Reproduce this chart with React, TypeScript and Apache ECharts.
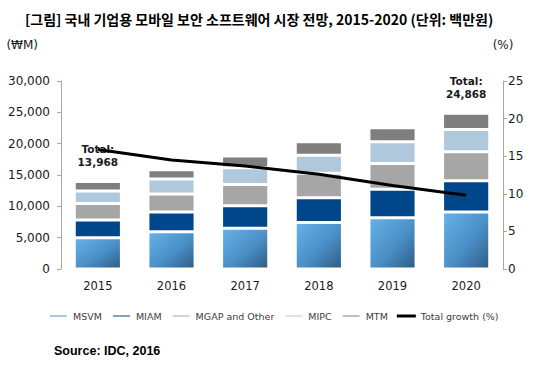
import React, { useEffect, useRef } from "react";
import * as echarts from "echarts";

const years = ["2015", "2016", "2017", "2018", "2019", "2020"];
const msvm = [5000, 5940, 6490, 7420, 8190, 9100];
const miam = [2800, 3160, 3590, 3960, 4550, 5000];
const mgap = [2650, 2870, 3400, 3890, 4100, 4600];
const mipc = [2000, 2390, 2660, 2890, 3460, 3550];
const mtm = [1518, 1480, 1890, 2150, 2250, 2618];
const growth = [15.9, 14.5, 13.7, 12.6, 11.1, 9.8];
const totalLabelIdx = [0, 5];

const seriesNames = ["MSVM", "MIAM", "MGAP and Other", "MIPC", "MTM", "Total growth (%)"];

export default function App() {
  const ref = useRef<HTMLDivElement>(null);
  useEffect(() => {
    if (!ref.current) return;
    const chart = echarts.init(ref.current, undefined, { renderer: "svg" });
    const totals = years.map((_, i) => msvm[i] + miam[i] + mgap[i] + mipc[i] + mtm[i]);
    const fmt = (v: number) => v.toLocaleString("en-US");
    const font = "DejaVu Sans";
    const barBase = {
      type: "bar",
      stack: "total",
      barCategoryGap: "36%",
      yAxisIndex: 0,
    };
    const border = { borderColor: "#ffffff", borderWidth: 1.5 };
    chart.setOption({
      animation: false,
      backgroundColor: "#ffffff",
      title: {
        text: "[그림] 국내 기업용 모바일 보안 소프트웨어 시장 전망, 2015-2020 (단위: 백만원)",
        left: 20,
        top: 7,
        textStyle: {
          fontFamily: "Noto Sans CJK KR",
          fontWeight: "bold",
          fontSize: 14,
          color: "#000000",
        },
      },
      graphic: [
        {
          type: "text",
          left: 54,
          top: 344,
          style: {
            text: "Source: IDC, 2016",
            font: "bold 12.5px 'Liberation Sans'",
            fill: "#000000",
          },
        },
      ],
      legend: {
        left: 43,
        top: 306,
        itemWidth: 19,
        itemHeight: 3,
        itemGap: 9,
        icon: "rect",
        textStyle: { fontFamily: font, fontSize: 9.5, color: "#404040" },
        data: [
          { name: seriesNames[0], itemStyle: { color: "#4f8fc5" } },
          { name: seriesNames[1], itemStyle: { color: "#00468a" } },
          { name: seriesNames[2], itemStyle: { color: "#a6a6a6" } },
          { name: seriesNames[3], itemStyle: { color: "#b0c8db" } },
          { name: seriesNames[4], itemStyle: { color: "#7f7f7f" } },
          { name: seriesNames[5], itemStyle: { color: "#000000" } },
        ],
      },
      grid: { left: 61, right: 41, top: 81, bottom: 96 },
      xAxis: {
        type: "category",
        data: years,
        axisLine: { show: false },
        axisTick: { show: false },
        axisLabel: { fontFamily: font, fontSize: 11.5, color: "#1a1a1a", margin: 11 },
      },
      yAxis: [
        {
          type: "value",
          min: 0,
          max: 30000,
          interval: 5000,
          name: "(₩M)",
          nameLocation: "end",
          nameGap: 30,
          nameTextStyle: {
            fontFamily: font,
            fontSize: 12,
            color: "#1a1a1a",
            align: "right",
            padding: [0, 23, 0, 0],
          },
          splitLine: { show: false },
          axisLine: { show: true, lineStyle: { color: "#a6a6a6", width: 1 } },
          axisTick: { show: true, length: 4, lineStyle: { color: "#a6a6a6" } },
          axisLabel: {
            fontFamily: font,
            fontSize: 12,
            color: "#1a1a1a",
            margin: 11,
            formatter: (v: number) => fmt(v),
          },
        },
        {
          type: "value",
          min: 0,
          max: 25,
          interval: 5,
          name: "(%)",
          nameLocation: "end",
          nameGap: 30,
          nameTextStyle: { fontFamily: font, fontSize: 12, color: "#1a1a1a" },
          splitLine: { show: false },
          axisLine: { show: true, lineStyle: { color: "#a6a6a6", width: 1 } },
          axisTick: { show: true, length: 4, lineStyle: { color: "#a6a6a6" } },
          axisLabel: { fontFamily: font, fontSize: 12, color: "#1a1a1a", margin: 5 },
        },
      ],
      series: [
        {
          ...barBase,
          name: seriesNames[0],
          data: msvm,
          itemStyle: {
            ...border,
            color: new echarts.graphic.LinearGradient(0, 0, 1, 1, [
              { offset: 0, color: "#66b2ea" },
              { offset: 0.55, color: "#4a8fc6" },
              { offset: 1, color: "#2e5c85" },
            ]),
          },
        },
        { ...barBase, name: seriesNames[1], data: miam, itemStyle: { ...border, color: "#00468a" } },
        { ...barBase, name: seriesNames[2], data: mgap, itemStyle: { ...border, color: "#a6a6a6" } },
        { ...barBase, name: seriesNames[3], data: mipc, itemStyle: { ...border, color: "#b0c8db" } },
        {
          ...barBase,
          name: seriesNames[4],
          itemStyle: { ...border, color: "#7f7f7f" },
          data: mtm.map((v, i) =>
            totalLabelIdx.includes(i)
              ? {
                  value: v,
                  label: {
                    show: true,
                    position: "top",
                    distance: 13,
                    formatter: () => `Total:\n${fmt(totals[i])}`,
                    fontFamily: font,
                    fontWeight: "bold",
                    fontSize: 10.5,
                    lineHeight: 13,
                    color: "#1a1a1a",
                    align: "center",
                  },
                }
              : v
          ),
        },
        {
          type: "line",
          name: seriesNames[5],
          yAxisIndex: 1,
          data: growth,
          symbol: "none",
          z: 10,
          lineStyle: { color: "#000000", width: 3 },
          itemStyle: { color: "#000000" },
        },
      ],
    });
    return () => chart.dispose();
  }, []);
  return <div ref={ref} style={{ width: 544, height: 365, position: "absolute", left: 0, top: 0 }} />;
}
